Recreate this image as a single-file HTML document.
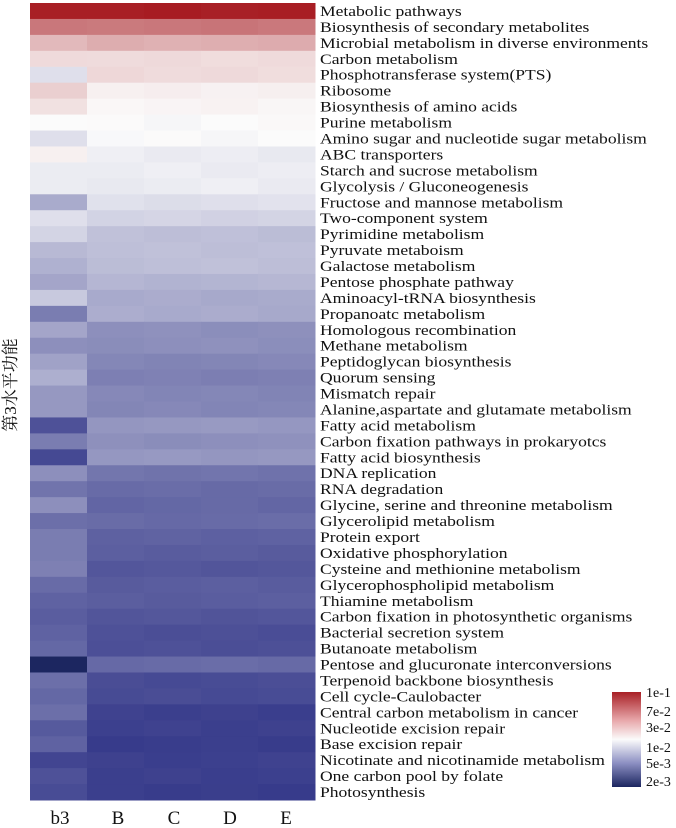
<!DOCTYPE html>
<html><head><meta charset="utf-8"><style>
body{margin:0;background:#fff;width:676px;height:828px;overflow:hidden}
svg{display:block}
text{font-family:"Liberation Serif","Noto Serif CJK SC",serif;fill:#111}
</style></head><body>
<svg id="s" width="676" height="828" xmlns="http://www.w3.org/2000/svg">
<defs><linearGradient id="lg" x1="0" y1="0" x2="0" y2="1">
<stop offset="0" stop-color="#a81f25"/><stop offset="0.3" stop-color="#e8a8ab"/>
<stop offset="0.5" stop-color="#fbfbfb"/><stop offset="0.75" stop-color="#8c8fc2"/>
<stop offset="1" stop-color="#1c2660"/></linearGradient></defs>
<g id="hm"></g>
<rect x="612" y="692" width="29" height="95" fill="url(#lg)"/>
<g font-size="14">
<text x="646" y="697">1e-1</text><text x="646" y="716">7e-2</text><text x="646" y="732">3e-2</text>
<text x="646" y="752">1e-2</text><text x="646" y="768">5e-3</text><text x="646" y="786">2e-3</text>
</g>
<g font-size="19" text-anchor="middle">
<text x="60" y="824">b3</text><text x="118" y="824">B</text><text x="174" y="824">C</text><text x="230" y="824">D</text><text x="286" y="824">E</text>
</g>
<text transform="translate(16,385) rotate(-90)" font-size="17" text-anchor="middle">第3水平功能</text>
</svg>
<script>
(function(){
var names=["Metabolic pathways","Biosynthesis of secondary metabolites","Microbial metabolism in diverse environments","Carbon metabolism","Phosphotransferase system(PTS)","Ribosome","Biosynthesis of amino acids","Purine metabolism","Amino sugar and nucleotide sugar metabolism","ABC transporters","Starch and sucrose metabolism","Glycolysis / Gluconeogenesis","Fructose and mannose metabolism","Two-component system","Pyrimidine metabolism","Pyruvate metaboism","Galactose metabolism","Pentose phosphate pathway","Aminoacyl-tRNA biosynthesis","Propanoatc metabolism","Homologous recombination","Methane metabolism","Peptidoglycan biosynthesis","Quorum sensing","Mismatch repair","Alanine,aspartate and glutamate metabolism","Fatty acid metabolism","Carbon fixation pathways in prokaryotcs","Fatty acid biosynthesis","DNA replication","RNA degradation","Glycine, serine and threonine metabolism","Glycerolipid metabolism","Protein export","Oxidative phosphorylation","Cysteine and methionine metabolism","Glycerophospholipid metabolism","Thiamine metabolism","Carbon fixation in photosynthetic organisms","Bacterial secretion system","Butanoate metabolism","Pentose and glucuronate interconversions","Terpenoid backbone biosynthesis","Cell cycle-Caulobacter","Central carbon metabolism in cancer","Nucleotide excision repair","Base excision repair","Nicotinate and nicotinamide metabolism","One carbon pool by folate","Photosynthesis"];
var v=[[1,1],[.6,.6],[.3,.35],[.15,.15],[-.1,.15],[.2,.05],[.12,.03],[0,0],[-.1,0],[.05,-.05],[-.05,-.05],[-.05,-.05],[-.35,-.1],[-.1,-.15],[-.15,-.25],[-.28,-.25],[-.32,-.25],[-.38,-.3],[-.2,-.35],[-.6,-.35],[-.38,-.5],[-.5,-.5],[-.4,-.55],[-.33,-.58],[-.45,-.55],[-.45,-.55],[-.85,-.45],[-.6,-.5],[-.9,-.45],[-.5,-.65],[-.65,-.7],[-.5,-.72],[-.68,-.7],[-.6,-.75],[-.6,-.78],[-.58,-.82],[-.7,-.78],[-.75,-.78],[-.78,-.82],[-.75,-.86],[-.72,-.86],[-1.3,-.7],[-.68,-.88],[-.72,-.88],[-.68,-.95],[-.8,-.95],[-.75,-.97],[-.92,-.95],[-.85,-.95],[-.88,-.97]];
function col(t){var W=[251,251,251],R=[168,31,37],B=[52,56,137],N=[28,38,96],a,b,f;
if(t>=0){a=W;b=R;f=t;}else if(t>=-1){a=W;b=B;f=Math.pow(-t,0.85);}else{a=B;b=N;f=(-t-1)/0.3;}
return "rgb("+[0,1,2].map(function(i){return Math.round(a[i]+(b[i]-a[i])*f)}).join(",")+")";}
var NS="http://www.w3.org/2000/svg";
var g=document.getElementById("hm"),xs=[30,87,144,201,258,315],y0=3,rh=797/50;
for(var r=0;r<50;r++){var y=y0+r*rh;
for(var c=0;c<5;c++){var t=c==0?v[r][0]:v[r][1]+((c*7+r*3)%5-2)*0.006;
var e=document.createElementNS(NS,"rect");
e.setAttribute("x",xs[c]);e.setAttribute("y",y.toFixed(2));
e.setAttribute("width",xs[c+1]-xs[c]+0.5);e.setAttribute("height",(rh+0.5).toFixed(2));
e.setAttribute("fill",col(t));g.appendChild(e);}
var tx=document.createElementNS(NS,"text");
tx.setAttribute("transform","translate(320,"+(y+rh/2+5).toFixed(1)+") scale(1.17,1)");
tx.setAttribute("font-size","15");
tx.textContent=names[r];g.appendChild(tx);}
})();
</script>
</body></html>
